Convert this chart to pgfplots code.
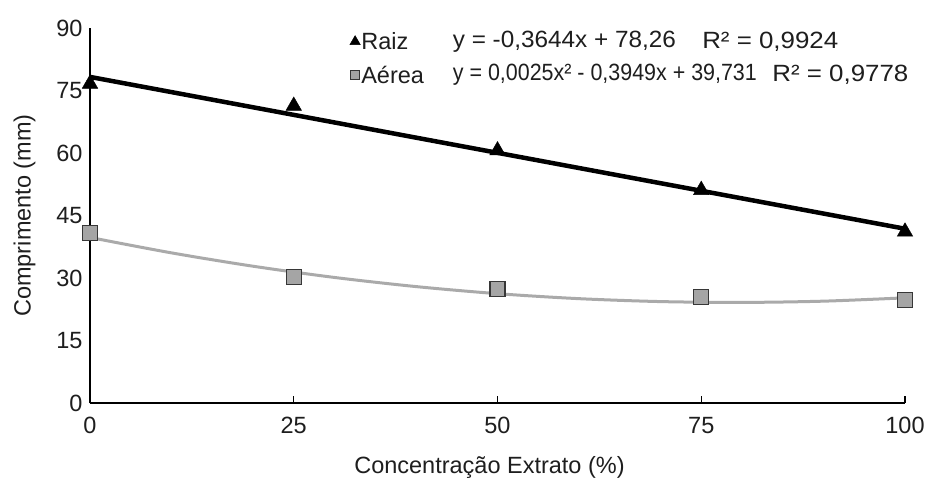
\documentclass[border=0pt]{standalone}
\usepackage{pgfplots}
\pgfplotsset{compat=1.18}
\usepackage{fontspec}
\setmainfont{Liberation Sans}
\newcommand{\F}{\fontsize{23.5bp}{28bp}\selectfont}
\definecolor{txt}{RGB}{30,30,30}
\definecolor{aerfill}{RGB}{165,165,165}
\definecolor{aeredge}{RGB}{55,55,55}
\definecolor{aerline}{RGB}{170,170,170}

\begin{document}
\begin{tikzpicture}
\begin{axis}[scale only axis, width=815bp, height=375bp,
    xmin=0, xmax=100, ymin=0, ymax=90,
    axis x line*=bottom, axis y line*=left,
    axis line style={-, line width=1.3bp, black},
    xtick={0,25,50,75,100}, ytick={0,15,...,90},
    tick align=inside, major tick length=7bp,
    x tick style={line width=1.1bp, black}, y tick style={draw=none},
    /pgf/number format/assume math mode=true,
    tick label style={font=\F, text=txt},
    xticklabel style={yshift=-11bp}, yticklabel style={xshift=-4bp},
    xlabel={Concentração Extrato (\%)}, ylabel={Comprimento (mm)},
    label style={font=\F, text=txt},
    xlabel style={yshift=-15bp, xshift=-8bp}, ylabel style={yshift=14bp},
    clip=false,
    legend style={at={(rel axis cs:0.315,0.997)}, anchor=north west, draw=none, fill=none,
        font=\F, text=txt, row sep=13bp, column sep=0bp,
        nodes={inner sep=1bp}},
    legend cell align=left,
    legend image code/.code={\draw plot coordinates {(0bp,0bp)};},
]
% trend lines
\addplot[forget plot, line width=3bp, aerline, smooth] coordinates {
    (0,39.73)(10,36.03)(20,32.83)(30,30.13)(40,27.94)(50,26.24)
    (60,25.04)(70,24.34)(80,24.14)(90,24.44)(100,25.24)};
\addplot[forget plot, line width=4.5bp, black] coordinates {(0,78.26)(100,41.82)};
% data
\addplot[forget plot, only marks, mark=triangle*, mark size=9bp, black] coordinates {
    (0,76.6)(25,71.3)(50,60.6)(75,51.1)(100,41.1)};
\addplot[forget plot, only marks, mark=square*, mark size=7.5bp,
    mark options={fill=aerfill, draw=aeredge, line width=1.3bp}] coordinates {
    (0,40.8)(25,30.2)(50,27.4)(75,25.4)(100,24.8)};
\addlegendimage{only marks, mark=triangle*, mark size=6bp, black}
\addlegendentry{Raiz}
\addlegendimage{only marks, mark=square*, mark size=4.5bp, mark options={fill=aerfill, draw=aeredge, line width=0.9bp}}
\addlegendentry{Aérea}
\node[anchor=west, font=\F, text=txt, inner sep=0pt] at (axis cs:44.5,86.6) {\resizebox{223bp}{\height}{y = -0,3644x + 78,26}};
\node[anchor=west, font=\F, text=txt, inner sep=0pt] at (axis cs:75.1,86.6) {\resizebox{136bp}{\height}{R² = 0,9924}};
\node[anchor=west, font=\F, text=txt, inner sep=0pt] at (axis cs:44.5,78.7) {\resizebox{304bp}{\height}{y = 0,0025x² - 0,3949x + 39,731}};
\node[anchor=west, font=\F, text=txt, inner sep=0pt] at (axis cs:83.7,78.7) {\resizebox{136bp}{\height}{R² = 0,9778}};
\coordinate (O) at (rel axis cs:0,0);
\end{axis}
\pgfresetboundingbox
\path[use as bounding box] (O) ++(-90bp,-75bp) rectangle ++(928bp,478bp);
\end{tikzpicture}
\end{document}
